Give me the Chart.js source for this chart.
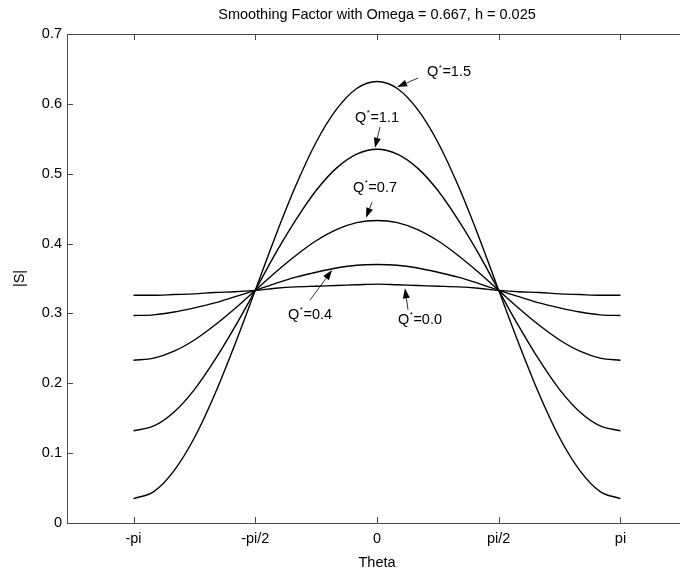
<!DOCTYPE html>
<html>
<head>
<meta charset="utf-8">
<script src="https://cdn.jsdelivr.net/npm/chart.js@4"></script>
<style>
  html, body { margin: 0; padding: 0; background: #fff; overflow: hidden; }
  #wrap { width: 700px; height: 573px; }
</style>
</head>
<body>
<div id="wrap"><canvas id="smoothChart"></canvas></div>
<script>
// theta samples (radians), -pi .. pi
const theta = [-3.1416, -2.8798, -2.6180, -2.3562, -2.0944, -1.8326, -1.5708, -1.3090, -1.0472, -0.7854, -0.5236, -0.2618, 0,
    0.2618, 0.5236, 0.7854, 1.0472, 1.3090, 1.5708, 1.8326, 2.0944, 2.3562, 2.6180, 2.8798, 3.1416];

// |S|, one list per Q*
const sQ00 = [0.326, 0.326, 0.327, 0.328, 0.330, 0.331, 0.333, 0.336, 0.338, 0.339, 0.340, 0.341, 0.342, 0.341, 0.340, 0.339, 0.338, 0.336, 0.333, 0.331, 0.330, 0.328, 0.327, 0.326, 0.326];
const sQ04 = [0.297, 0.298, 0.302, 0.308, 0.315, 0.324, 0.333, 0.343, 0.352, 0.359, 0.365, 0.369, 0.370, 0.369, 0.365, 0.359, 0.352, 0.343, 0.333, 0.324, 0.315, 0.308, 0.302, 0.298, 0.297];
const sQ07 = [0.233, 0.236, 0.246, 0.262, 0.283, 0.307, 0.333, 0.359, 0.383, 0.404, 0.420, 0.430, 0.433, 0.430, 0.420, 0.404, 0.383, 0.359, 0.333, 0.307, 0.283, 0.262, 0.246, 0.236, 0.233];
const sQ11 = [0.132, 0.139, 0.159, 0.191, 0.233, 0.281, 0.333, 0.386, 0.434, 0.476, 0.508, 0.528, 0.535, 0.528, 0.508, 0.476, 0.434, 0.386, 0.333, 0.281, 0.233, 0.191, 0.159, 0.139, 0.132];
const sQ15 = [0.035, 0.045, 0.075, 0.122, 0.184, 0.256, 0.333, 0.411, 0.483, 0.545, 0.592, 0.622, 0.632, 0.622, 0.592, 0.545, 0.483, 0.411, 0.333, 0.256, 0.184, 0.122, 0.075, 0.045, 0.035];

// x tick positions and their labels
const xTickValues = [-Math.PI, -Math.PI / 2, 0, Math.PI / 2, Math.PI];
const xTickLabels = ['-pi', '-pi/2', '0', 'pi/2', 'pi'];

// annotation labels: text anchor and arrow tail/head, in data units
const noteLabels = ['1.5', '1.1', '0.7', '0.4', '0.0'];
const noteText = [[0.645, 0.645], [-0.284, 0.580], [-0.31, 0.480], [-1.148, 0.298], [0.271, 0.291]];
const noteTail = [[0.53, 0.637], [0.039, 0.567], [-0.065, 0.459], [-0.865, 0.319], [0.40, 0.305]];
const noteHead = [[0.26, 0.624], [-0.026, 0.537], [-0.142, 0.437], [-0.58, 0.362], [0.361, 0.336]];

const FONT = 'Arial, "Liberation Sans", Helvetica, sans-serif';
const AXIS = '#4a4a4a';

function pts(ys) {
    return theta.map((t, i) => ({ x: t, y: ys[i] }));
}

const matlabBox = {
    id: 'matlabBox',
    afterDraw(chart) {
        const { ctx, chartArea: a, scales } = chart;
        ctx.save();
        ctx.strokeStyle = AXIS;
        ctx.lineWidth = 1;
        ctx.beginPath();
        ctx.moveTo(a.left + 0.5, a.bottom + 0.5);
        ctx.lineTo(a.left + 0.5, a.top + 0.5);
        ctx.lineTo(a.right + 0.5, a.top + 0.5);
        ctx.lineTo(a.right + 0.5, a.bottom + 0.5);
        ctx.lineTo(a.left + 0.5, a.bottom + 0.5);
        // inward ticks
        xTickValues.forEach(v => {
            const px = Math.round(scales.x.getPixelForValue(v)) + 0.5;
            ctx.moveTo(px, a.bottom); ctx.lineTo(px, a.bottom - 6);
            ctx.moveTo(px, a.top); ctx.lineTo(px, a.top + 6);
        });
        scales.y.ticks.forEach(t => {
            const py = Math.round(scales.y.getPixelForValue(t.value)) + 0.5;
            ctx.moveTo(a.left, py); ctx.lineTo(a.left + 6, py);
            ctx.moveTo(a.right, py); ctx.lineTo(a.right - 6, py);
        });
        ctx.stroke();

        // Q* annotations with arrows
        ctx.fillStyle = '#000';
        ctx.strokeStyle = '#000';
        ctx.textBaseline = 'middle';
        ctx.textAlign = 'left';
        noteLabels.forEach((lab, i) => {
            const tx = scales.x.getPixelForValue(noteText[i][0]);
            const ty = scales.y.getPixelForValue(noteText[i][1]);
            ctx.font = '14.5px ' + FONT;
            ctx.fillText('Q', tx, ty);
            let w = ctx.measureText('Q').width;
            ctx.font = '8px ' + FONT;
            ctx.fillText('*', tx + w + 0.5, ty - 5);
            w += ctx.measureText('*').width + 1;
            ctx.font = '14.5px ' + FONT;
            ctx.fillText('=' + lab, tx + w, ty);

            const x1 = scales.x.getPixelForValue(noteTail[i][0]);
            const y1 = scales.y.getPixelForValue(noteTail[i][1]);
            const x2 = scales.x.getPixelForValue(noteHead[i][0]);
            const y2 = scales.y.getPixelForValue(noteHead[i][1]);
            const ang = Math.atan2(y2 - y1, x2 - x1);
            const len = 10, half = 3.5;
            const bx = x2 - len * Math.cos(ang), by = y2 - len * Math.sin(ang);
            ctx.lineWidth = 0.8;
            ctx.beginPath();
            ctx.moveTo(x1, y1);
            ctx.lineTo(bx, by);
            ctx.stroke();
            ctx.beginPath();
            ctx.moveTo(x2, y2);
            ctx.lineTo(bx + half * Math.sin(ang), by - half * Math.cos(ang));
            ctx.lineTo(bx - half * Math.sin(ang), by + half * Math.cos(ang));
            ctx.closePath();
            ctx.fill();
        });
        ctx.restore();
    }
};

const line = (ys) => ({
    data: pts(ys),
    borderColor: '#000',
    borderWidth: 1.4,
    pointRadius: 0,
    cubicInterpolationMode: 'monotone',
    fill: false
});

new Chart(document.getElementById('smoothChart'), {
    type: 'line',
    data: {
        datasets: [line(sQ00), line(sQ04), line(sQ07), line(sQ11), line(sQ15)]
    },
    options: {
        responsive: true,
        maintainAspectRatio: false,
        animation: false,
        layout: { padding: { left: 0, right: 13, top: 0, bottom: 0 } },
        plugins: {
            legend: { display: false },
            tooltip: { enabled: false },
            title: {
                display: true,
                fullSize: false,
                text: 'Smoothing Factor with Omega = 0.667, h = 0.025',
                color: '#000',
                font: { family: FONT, size: 14.5, weight: 'normal' },
                padding: { top: 6, bottom: 10.6 }
            }
        },
        scales: {
            x: {
                type: 'linear',
                min: -4,
                max: 4,
                afterBuildTicks: (scale) => {
                    scale.ticks = xTickValues.map(v => ({ value: v }));
                },
                ticks: {
                    color: '#000',
                    font: { family: FONT, size: 14.5 },
                    padding: 7,
                    maxRotation: 0,
                    autoSkip: false,
                    callback: (value, index) => xTickLabels[index]
                },
                grid: { display: false, drawTicks: false },
                border: { display: false },
                title: {
                    display: true,
                    text: 'Theta',
                    color: '#000',
                    font: { family: FONT, size: 14.5 },
                    padding: { top: 1, bottom: 1 }
                },
                afterFit: (scale) => { scale.height = 50; }
            },
            y: {
                min: 0,
                max: 0.7,
                ticks: {
                    stepSize: 0.1,
                    color: '#000',
                    font: { family: FONT, size: 14.5 },
                    padding: 5,
                    callback: (value) => value === 0 ? '0' : value.toFixed(1)
                },
                grid: { display: false, drawTicks: false },
                border: { display: false },
                title: {
                    display: true,
                    text: '|S|',
                    color: '#000',
                    font: { family: FONT, size: 14.5 },
                    padding: { top: 11, bottom: 0 }
                },
                afterFit: (scale) => { scale.width = 67; }
            }
        }
    },
    plugins: [matlabBox]
});
</script>
</body>
</html>
